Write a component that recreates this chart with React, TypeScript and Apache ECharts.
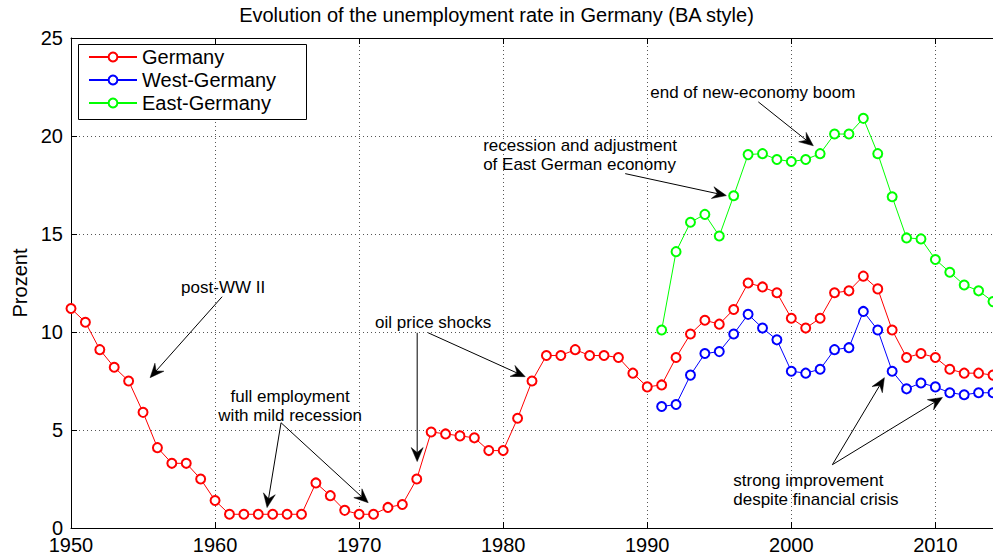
import React, { useEffect, useRef } from 'react';
import * as echarts from 'echarts';

const germanyYears = [
  1950, 1951, 1952, 1953, 1954, 1955, 1956, 1957, 1958, 1959,
  1960, 1961, 1962, 1963, 1964, 1965, 1966, 1967, 1968, 1969,
  1970, 1971, 1972, 1973, 1974, 1975, 1976, 1977, 1978, 1979,
  1980, 1981, 1982, 1983, 1984, 1985, 1986, 1987, 1988, 1989,
  1990, 1991, 1992, 1993, 1994, 1995, 1996, 1997, 1998, 1999,
  2000, 2001, 2002, 2003, 2004, 2005, 2006, 2007, 2008, 2009,
  2010, 2011, 2012, 2013, 2014,
];
const germanyRate = [
  11.2, 10.5, 9.1, 8.2, 7.5, 5.9, 4.1, 3.3, 3.3, 2.5,
  1.4, 0.7, 0.7, 0.7, 0.7, 0.7, 0.7, 2.3, 1.65, 0.9,
  0.7, 0.7, 1.05, 1.2, 2.5, 4.9, 4.8, 4.7, 4.6, 3.95,
  3.95, 5.6, 7.5, 8.8, 8.8, 9.1, 8.8, 8.8, 8.7, 7.9,
  7.2, 7.3, 8.7, 9.9, 10.6, 10.4, 11.15, 12.5, 12.3, 12.0,
  10.7, 10.2, 10.7, 12.0, 12.1, 12.85, 12.2, 10.1, 8.7, 8.9,
  8.7, 8.1, 7.9, 7.9, 7.8,
];
const splitYears = [
  1991, 1992, 1993, 1994, 1995, 1996, 1997, 1998, 1999, 2000,
  2001, 2002, 2003, 2004, 2005, 2006, 2007, 2008, 2009, 2010,
  2011, 2012, 2013, 2014,
];
const westRate = [
  6.2, 6.3, 7.8, 8.9, 9.0, 9.9, 10.9, 10.2, 9.6, 8.0,
  7.9, 8.1, 9.1, 9.2, 11.05, 10.1, 8.0, 7.1, 7.4, 7.2,
  6.9, 6.8, 6.9, 6.9,
];
const eastRate = [
  10.1, 14.1, 15.6, 16.0, 14.9, 16.95, 19.05, 19.1, 18.8, 18.7,
  18.8, 19.1, 20.1, 20.1, 20.9, 19.1, 16.9, 14.8, 14.75, 13.7,
  13.05, 12.4, 12.1, 11.55,
];
const seriesNames = ['Germany', 'West-Germany', 'East-Germany'];
const titleText = 'Evolution of the unemployment rate in Germany (BA style)';
const yAxisName = 'Prozent';

// annotation texts and arrows, placed in data coordinates
const annotationTexts = [
  { text: 'post-WW II', at: [1960.56, 12.26], align: 'center' },
  { text: 'full employment\nwith mild recession', at: [1965.21, 6.21], align: 'center' },
  { text: 'oil price shocks', at: [1975.14, 10.47], align: 'center' },
  { text: 'recession and adjustment\nof East German economy', at: [1978.61, 19.02], align: 'left' },
  { text: 'end of new-economy boom', at: [1990.21, 22.21], align: 'left' },
  { text: 'strong improvement\ndespite financial crisis', at: [1995.97, 1.95], align: 'left' },
];
const annotationArrows = [
  { from: [1960.49, 11.8], to: [1955.49, 7.67] },
  { from: [1964.58, 5.37], to: [1963.61, 1.04] },
  { from: [1964.58, 5.37], to: [1970.63, 1.29] },
  { from: [1974.03, 9.96], to: [1974.03, 3.39] },
  { from: [1974.79, 9.96], to: [1981.53, 7.72] },
  { from: [1988.47, 18.08], to: [1995.49, 16.96] },
  { from: [1997.71, 21.74], to: [2001.53, 19.5] },
  { from: [2002.85, 3.23], to: [2006.46, 7.67] },
  { from: [2002.85, 3.23], to: [2010.49, 6.66] },
];

const FONT = '"Liberation Sans", Arial, Helvetica, sans-serif';

export default function App() {
  const ref = useRef<HTMLDivElement>(null);
  useEffect(() => {
    if (!ref.current) return;
    const chart = echarts.init(ref.current, undefined, { renderer: 'svg' });
    const mk = (color: string) => ({
      type: 'line' as const,
      symbol: 'emptyCircle',
      symbolSize: 9,
      showSymbol: true,
      color,
      lineStyle: { color, width: 1 },
      itemStyle: { color, borderColor: color, borderWidth: 1 },
      emphasis: { disabled: true },
      z: 3,
    });
    chart.setOption({
      animation: false,
      textStyle: { fontFamily: FONT },
      title: {
        text: titleText,
        left: 'center',
        top: 5,
        padding: 0,
        textStyle: { fontFamily: FONT, fontSize: 20, fontWeight: 'normal', color: '#000' },
      },
      legend: {
        orient: 'vertical',
        left: 88,
        top: 47,
        itemWidth: 48,
        itemHeight: 11,
        itemGap: 3,
        padding: 0,
        z: 20,
        selectedMode: false,
        textStyle: { fontFamily: FONT, fontSize: 20, color: '#000', lineHeight: 20 },
        data: seriesNames,
      },
      grid: { left: 71, right: 0, top: 38, bottom: 27, containLabel: false },
      xAxis: [
        {
          type: 'value',
          min: 1950,
          max: 2014,
          interval: 10,
          axisLine: { show: true, lineStyle: { color: '#000', width: 1 } },
          axisTick: { show: true, inside: true, length: 6, lineStyle: { color: '#000' } },
          axisLabel: {
            show: true, color: '#000', fontSize: 20, fontFamily: FONT, margin: 8,
            lineHeight: 18,
            showMaxLabel: false,
            formatter: (v: number) => String(v),
          },
          splitLine: { show: true, lineStyle: { color: '#555', type: [1, 3], width: 1 } },
        },
        {
          type: 'value',
          position: 'top',
          min: 1950,
          max: 2014,
          interval: 10,
          axisLine: { show: true, lineStyle: { color: '#000', width: 1 } },
          axisTick: { show: true, inside: true, length: 6, lineStyle: { color: '#000' } },
          axisLabel: { show: false },
          splitLine: { show: false },
        },
      ],
      yAxis: {
        type: 'value',
        min: 0,
        max: 25,
        interval: 5,
        name: yAxisName,
        nameLocation: 'middle',
        nameGap: 39,
        nameTextStyle: { color: '#000', fontSize: 20, fontFamily: FONT },
        axisLine: { show: true, lineStyle: { color: '#000', width: 1 } },
        axisTick: { show: true, inside: true, length: 6, lineStyle: { color: '#000' } },
        axisLabel: { color: '#000', fontSize: 20, fontFamily: FONT, margin: 8, lineHeight: 14 },
        splitLine: { show: true, lineStyle: { color: '#555', type: [1, 3], width: 1 } },
      },
      series: [
        { ...mk('#ff0000'), name: seriesNames[0], data: germanyYears.map((y, i) => [y, germanyRate[i]]) },
        { ...mk('#0000ff'), name: seriesNames[1], data: splitYears.map((y, i) => [y, westRate[i]]) },
        { ...mk('#00ff00'), name: seriesNames[2], data: splitYears.map((y, i) => [y, eastRate[i]]) },
      ],
    });

    const P = (p: number[]) =>
      chart.convertToPixel({ xAxisIndex: 0, yAxisIndex: 0 }, p) as number[];

    const graphics: any[] = [
      {
        type: 'rect',
        z: 15,
        shape: { x: 78.5, y: 44.5, width: 228, height: 75 },
        style: { fill: '#fff', stroke: '#000', lineWidth: 1 },
        silent: true,
      },
    ];
    annotationTexts.forEach((a) => {
      const [x, y] = P(a.at);
      graphics.push({
        type: 'text',
        z: 16,
        x,
        y,
        silent: true,
        style: {
          text: a.text,
          fill: '#000',
          font: `17px ${FONT}`,
          align: a.align,
          verticalAlign: 'middle',
          lineHeight: 19,
        },
      });
    });
    annotationArrows.forEach((a) => {
      const [x1, y1] = P(a.from);
      const [x2, y2] = P(a.to);
      const dx = x2 - x1;
      const dy = y2 - y1;
      const len = Math.sqrt(dx * dx + dy * dy);
      const ux = dx / len;
      const uy = dy / len;
      const px = -uy;
      const py = ux;
      const L = 14;
      const W = 6;
      const notch = 9;
      const bx = x2 - ux * L;
      const by = y2 - uy * L;
      const nx = x2 - ux * notch;
      const ny = y2 - uy * notch;
      graphics.push({
        type: 'line',
        z: 16,
        silent: true,
        shape: { x1, y1, x2: nx, y2: ny },
        style: { stroke: '#000', lineWidth: 1 },
      });
      graphics.push({
        type: 'polygon',
        z: 16,
        silent: true,
        shape: {
          points: [
            [x2, y2],
            [bx + px * W, by + py * W],
            [nx, ny],
            [bx - px * W, by - py * W],
          ],
        },
        style: { fill: '#000', stroke: '#000', lineWidth: 0.5 },
      });
    });
    chart.setOption({ graphic: graphics });

    return () => chart.dispose();
  }, []);
  return (
    <div
      ref={ref}
      style={{ position: 'fixed', left: 0, top: 0, width: 993, height: 555, background: '#fff' }}
    />
  );
}
